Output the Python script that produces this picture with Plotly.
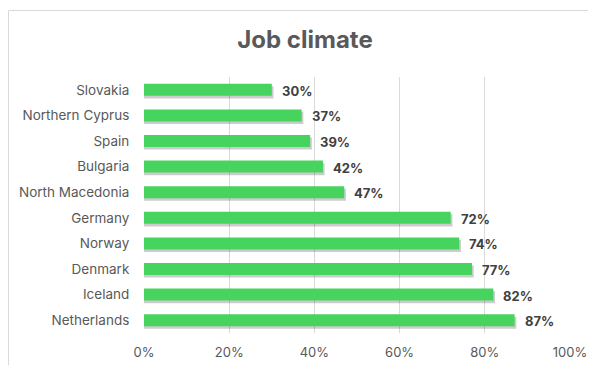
import plotly.graph_objects as go

countries = ["Slovakia", "Northern Cyprus", "Spain", "Bulgaria", "North Macedonia",
             "Germany", "Norway", "Denmark", "Iceland", "Netherlands"]
values = [0.30, 0.37, 0.39, 0.42, 0.47, 0.72, 0.74, 0.77, 0.82, 0.87]
tick_vals = [0, 0.2, 0.4, 0.6, 0.8, 1.0]
tick_text = ["0%", "20%", "40%", "60%", "80%", "100%"]

FONT = "Inter"
OFF = 8  # default page body margin
W, H = 596 - OFF, 365 - OFF
L, R, T, B = 144 - OFF, 26, 77 - OFF, 32

idx = list(range(len(countries)))
fig = go.Figure()
# subtle shadow
fig.add_trace(go.Bar(
    x=[v + 0.004 for v in values], y=[i + 0.1 for i in idx], orientation="h",
    marker=dict(color="rgba(0,0,0,0.2)", line=dict(width=0)),
    width=0.47, hoverinfo="skip", showlegend=False,
))
fig.add_trace(go.Bar(
    x=values, y=idx, orientation="h",
    marker=dict(color="#46D45E", line=dict(width=0)),
    width=0.47, showlegend=False,
))

for i, v in zip(idx, values):
    fig.add_annotation(x=v, y=i, text=f"<b>{round(v*100)}%</b>", showarrow=False,
                       xanchor="left", xshift=8, yshift=-1,
                       font=dict(family=FONT, size=13, color="#404040"))

pw = W - L - R
ph = H - T - B
fig.add_shape(type="rect", xref="paper", yref="paper",
              x0=(0.5 - L) / pw, x1=(W + 10 - L) / pw,
              y0=-(B + 10) / ph, y1=(H - B - 2.5) / ph,
              line=dict(color="#D9D9D9", width=1), fillcolor="rgba(0,0,0,0)", layer="below")

fig.update_layout(
    width=W, height=H,
    margin=dict(l=L, r=R, t=T, b=B, pad=0, autoexpand=False),
    paper_bgcolor="white", plot_bgcolor="white",
    barmode="overlay",
    title=dict(text="<b>Job climate</b>", x=(305 - OFF) / W, xanchor="center",
               y=1 - (40 - OFF) / H, yanchor="middle", xref="container", yref="container",
               font=dict(family=FONT, size=24, color="#595959")),
    xaxis=dict(range=[0, 1], tickvals=tick_vals, ticktext=tick_text, automargin=False,
               showgrid=True, gridcolor="#D9D9D9", gridwidth=1,
               zeroline=False, showline=False,
               ticks="outside", ticklen=7, tickcolor="rgba(0,0,0,0)",
               tickfont=dict(family=FONT, size=13, color="#595959")),
    yaxis=dict(range=[len(countries) - 0.5, -0.5], tickvals=idx, ticktext=countries,
               automargin=False,
               showgrid=False, zeroline=False, showline=False,
               ticks="outside", ticklen=11, tickcolor="rgba(0,0,0,0)",
               tickfont=dict(family=FONT, size=13.5, color="#595959")),
)
fig.write_html("out.html")
